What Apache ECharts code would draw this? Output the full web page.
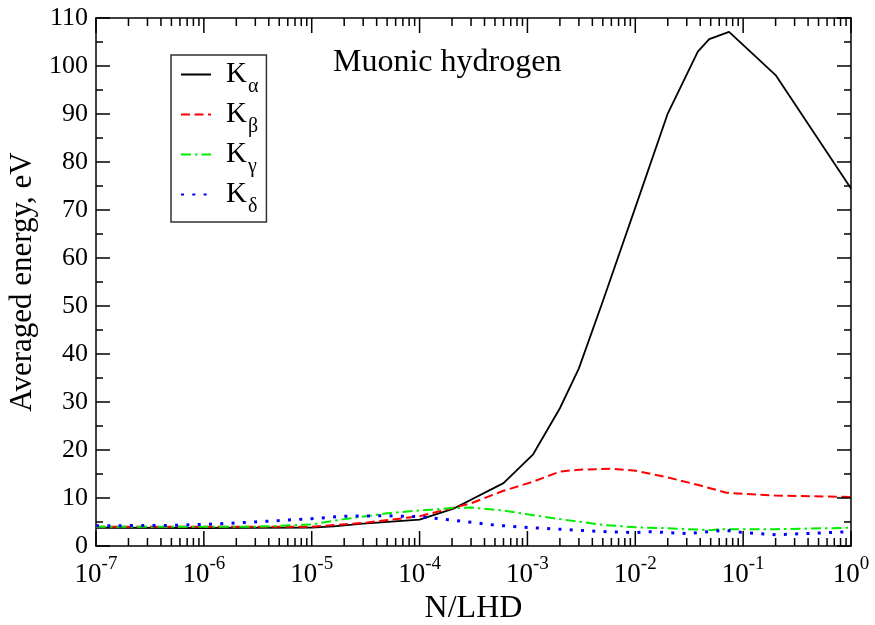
<!DOCTYPE html>
<html>
<head>
<meta charset="utf-8">
<script src="https://cdn.jsdelivr.net/npm/echarts@6/dist/echarts.min.js"></script>
<style>html,body{margin:0;padding:0;background:#fff;}#c{width:875px;height:625px;}</style>
</head>
<body>
<div id="c"></div>
<script>
const seriesNames = ['Kα', 'Kβ', 'Kγ', 'Kδ'];
const nAlpha = [1e-7,1e-6,1e-5,1.6e-5,3e-5,1e-4,2.1e-4,6e-4,1.13e-3,2e-3,3e-3,5e-3,1e-2,2e-2,3.8e-2,4.85e-2,7.4e-2,0.2,1];
const eAlpha = [3.8,3.75,3.85,4.1,4.65,5.5,7.85,13.1,19.1,28.7,37.0,51,70.5,90.1,103,105.6,107.1,98.1,74.5];
const nBeta = [1e-7,1e-6,1e-5,3e-5,1e-4,2e-4,3e-4,6e-4,1.13e-3,2e-3,3e-3,6e-3,1e-2,2e-2,4e-2,7e-2,0.2,1];
const eBeta = [4.0,4.0,4.0,4.8,6.2,7.9,8.9,11.5,13.4,15.5,15.9,16.1,15.7,14.3,12.6,11.1,10.5,10.2];
const nGamma = [1e-7,1e-6,3e-6,1e-5,2e-5,5e-5,1e-4,2e-4,3e-4,6e-4,1e-3,2e-3,5e-3,1e-2,2e-2,5e-2,6e-2,0.2,1];
const eGamma = [4.0,4.0,4.0,4.5,5.6,6.8,7.4,7.9,8.0,7.4,6.6,5.6,4.4,3.9,3.7,3.3,3.5,3.5,3.8];
const nDelta = [1e-7,5e-7,1e-6,2e-6,5e-6,1e-5,2e-5,5e-5,1e-4,2e-4,5e-4,1e-3,2e-3,5e-3,1e-2,1.3e-2,3e-2,6.8e-2,0.1,0.2,0.5,1];
const eDelta = [4.2,4.3,4.5,4.8,5.3,5.7,6.2,6.3,6.1,5.4,4.35,3.85,3.5,3.0,2.8,3.0,2.6,3.3,2.8,2.35,2.7,3.0];
const yTicks = {min: 0, max: 110, interval: 10};
const xRange = {min: 1e-7, max: 1};
const xDecades = [-7, -6, -5, -4, -3, -2, -1, 0];

// tick marks (inward, on all four sides): [value, length]
const xTickMarks = [];
xDecades.forEach(d => {
  xTickMarks.push([Math.pow(10, d), 0, 15]);
  if (d < 0) { for (let k = 2; k <= 9; k++) xTickMarks.push([k * Math.pow(10, d), 0, 8]); }
});
const yTickMarks = [];
for (let v = yTicks.min; v <= yTicks.max; v += yTicks.interval / 2) {
  yTickMarks.push([xRange.min, v, (v % yTicks.interval === 0) ? 14 : 7]);
}

const FONT = 'Liberation Serif';
const zip = (xs, ys) => xs.map((x, i) => [x, ys[i]]);
const tickStyle = {stroke: '#000', lineWidth: 1.5};

const chart = echarts.init(document.getElementById('c'));
const xLabelFmt = v => '{b|10}{e|' + Math.round(Math.log10(v)) + '}';

const option = {
  animation: false,
  backgroundColor: '#fff',
  title: {
    text: 'Muonic hydrogen', left: 328, top: 42,
    textStyle: {fontFamily: FONT, fontSize: 32, fontWeight: 'normal', color: '#000'}
  },
  grid: {left: 96, right: 24, top: 18, bottom: 79, containLabel: false, outerBoundsMode: 'none'},
  legend: {
    data: seriesNames,
    orient: 'vertical', left: 171, top: 55,
    padding: [5, 8, 5, 9],
    itemWidth: 30, itemHeight: 2, itemGap: 3,
    itemStyle: {opacity: 0},
    borderColor: '#333', borderWidth: 1.5, borderRadius: 0,
    formatter: name => '{k|K}{s|' + name.slice(1) + '}',
    textStyle: {
      fontFamily: FONT, color: '#000',
      rich: {
        k: {fontFamily: FONT, fontSize: 29, lineHeight: 29, verticalAlign: 'top', padding: [0, 0, 0, 10], color: '#000'},
        s: {fontFamily: FONT, fontSize: 20, lineHeight: 20, verticalAlign: 'top', padding: [17, 0, 0, 1], color: '#000'}
      }
    }
  },
  xAxis: [{
    type: 'log', logBase: 10, min: xRange.min, max: xRange.max, splitNumber: 7,
    position: 'bottom',
    name: 'N/LHD', nameLocation: 'middle', nameGap: 38,
    nameTextStyle: {fontFamily: FONT, fontSize: 32, color: '#000'},
    axisLine: {show: true, onZero: false, lineStyle: {color: '#000', width: 1.5}},
    axisTick: {show: false},
    minorTick: {show: false},
    splitLine: {show: false},
    axisLabel: {
      margin: 9, formatter: xLabelFmt, color: '#000',
      rich: {
        b: {fontFamily: FONT, fontSize: 27, lineHeight: 33, verticalAlign: 'bottom', color: '#000'},
        e: {fontFamily: FONT, fontSize: 19, lineHeight: 19, verticalAlign: 'top', color: '#000'}
      }
    }
  }, {
    type: 'log', logBase: 10, min: xRange.min, max: xRange.max, splitNumber: 7,
    position: 'top',
    axisLine: {show: true, onZero: false, lineStyle: {color: '#000', width: 1.5}},
    axisTick: {show: false},
    axisLabel: {show: false},
    splitLine: {show: false}
  }],
  yAxis: [{
    type: 'value', min: yTicks.min, max: yTicks.max, interval: yTicks.interval,
    position: 'left',
    name: 'Averaged energy, eV', nameLocation: 'middle', nameGap: 58,
    nameTextStyle: {fontFamily: FONT, fontSize: 31, color: '#000'},
    axisLine: {show: true, onZero: false, lineStyle: {color: '#000', width: 1.5}},
    axisTick: {show: false},
    minorTick: {show: false},
    splitLine: {show: false},
    axisLabel: {margin: 8, fontFamily: FONT, fontSize: 26, color: '#000'}
  }, {
    type: 'value', min: yTicks.min, max: yTicks.max, interval: yTicks.interval,
    position: 'right',
    axisLine: {show: true, onZero: false, lineStyle: {color: '#000', width: 1.5}},
    axisTick: {show: false},
    splitLine: {show: false},
    axisLabel: {show: false}
  }],
  series: [
    {name: seriesNames[0], type: 'line', data: zip(nAlpha, eAlpha), symbol: 'none', smooth: false,
     lineStyle: {color: '#000', width: 1.8, type: 'solid'}, itemStyle: {color: '#000'}},
    {name: seriesNames[1], type: 'line', data: zip(nBeta, eBeta), symbol: 'none',
     lineStyle: {color: '#ff0000', width: 2, type: [9, 4.5]}, itemStyle: {color: '#ff0000'}},
    {name: seriesNames[2], type: 'line', data: zip(nGamma, eGamma), symbol: 'none',
     lineStyle: {color: '#00ee00', width: 2, type: [10, 4, 2.5, 4]}, itemStyle: {color: '#00ee00'}},
    {name: seriesNames[3], type: 'line', data: zip(nDelta, eDelta), symbol: 'none',
     lineStyle: {color: '#0000ff', width: 3, type: [3, 8.3]}, itemStyle: {color: '#0000ff'}},
    {name: 'xTicks', type: 'custom', data: xTickMarks, silent: true, clip: false, z: 5,
     renderItem: (params, api) => {
       const x = api.value(0), len = api.value(2);
       const p0 = api.coord([x, yTicks.min]);
       const p1 = api.coord([x, yTicks.max]);
       return {type: 'group', children: [
         {type: 'line', shape: {x1: p0[0], y1: p0[1], x2: p0[0], y2: p0[1] - len}, style: tickStyle},
         {type: 'line', shape: {x1: p1[0], y1: p1[1], x2: p1[0], y2: p1[1] + len}, style: tickStyle}
       ]};
     }},
    {name: 'yTicks', type: 'custom', data: yTickMarks, silent: true, clip: false, z: 5,
     renderItem: (params, api) => {
       const y = api.value(1), len = api.value(2);
       const p0 = api.coord([xRange.min, y]);
       const p1 = api.coord([xRange.max, y]);
       return {type: 'group', children: [
         {type: 'line', shape: {x1: p0[0], y1: p0[1], x2: p0[0] + len, y2: p0[1]}, style: tickStyle},
         {type: 'line', shape: {x1: p1[0], y1: p1[1], x2: p1[0] - len, y2: p1[1]}, style: tickStyle}
       ]};
     }}
  ]
};
chart.setOption(option);
</script>
</body>
</html>
